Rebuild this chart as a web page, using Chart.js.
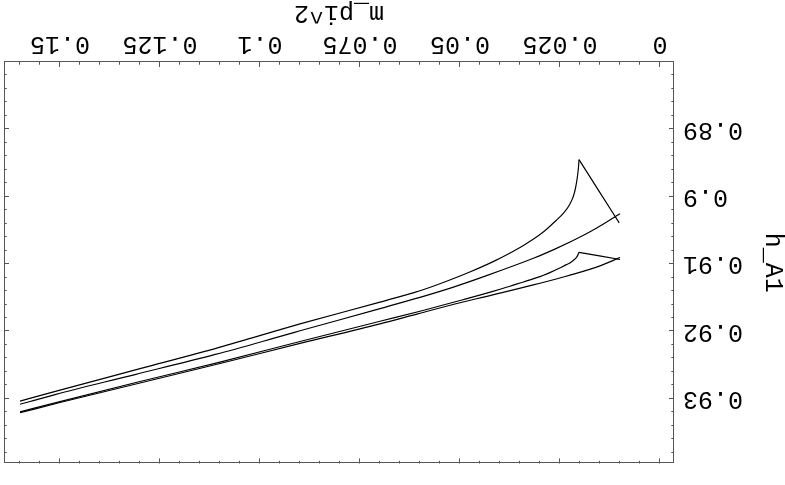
<!DOCTYPE html>
<html>
<head>
<meta charset="utf-8">
<script src="https://cdn.jsdelivr.net/npm/chart.js@4/dist/chart.umd.min.js"></script>
<style>
  html, body { margin: 0; padding: 0; background: #fff; overflow: hidden; }
  #wrap { width: 785px; height: 485px; }
  /* the whole figure is shown turned half a revolution */
  #plot { display: block; transform: rotate(180deg); }
</style>
</head>
<body>
<div id="wrap"><canvas id="plot" width="785" height="485"></canvas></div>
<script>
// Axis ticks and labels
const xTicks = [0, 0.025, 0.05, 0.075, 0.1, 0.125, 0.15];
const xTickLabels = ['0', '0.025', '0.05', '0.075', '0.1', '0.125', '0.15'];
const yTicks = [0.89, 0.9, 0.91, 0.92, 0.93];
const yTickLabels = ['0.89', '0.9', '0.91', '0.92', '0.93'];

// Curve 1 (upper cusp): short branch up to the cusp, then the long branch
const m1a = [0.0102, 0.01525, 0.02025];
const h1a = [0.90388, 0.89917, 0.89449];
const m1b = [0.02025, 0.0204, 0.02068, 0.02108, 0.02168, 0.02263, 0.02413, 0.02625, 0.02918, 0.0325, 0.035, 0.04, 0.045, 0.05, 0.06, 0.07, 0.09, 0.11, 0.13, 0.15, 0.16];
const h1b = [0.89449, 0.89570, 0.89714, 0.89859, 0.89997, 0.90120, 0.90243, 0.90367, 0.90523, 0.90662, 0.90754, 0.90913, 0.91052, 0.91177, 0.91396, 0.91564, 0.91888, 0.92233, 0.92552, 0.92870, 0.93033];

// Curve 2
const m2 = [0.01, 0.01583, 0.0225, 0.03, 0.04, 0.05, 0.06, 0.07, 0.09, 0.11, 0.13, 0.15, 0.16];
const h2 = [0.90251, 0.90464, 0.90671, 0.90874, 0.91099, 0.91309, 0.91493, 0.91661, 0.91990, 0.92323, 0.92620, 0.92917, 0.93081];

// Curve 3 (lower cusp): short branch up to the cusp, then the long branch
const m3a = [0.01, 0.02025];
const h3a = [0.90932, 0.90826];
const m3b = [0.02025, 0.02075, 0.022, 0.02375, 0.02625, 0.03, 0.035, 0.04, 0.05, 0.06, 0.07, 0.09, 0.11, 0.13, 0.15, 0.16];
const h3b = [0.90826, 0.90888, 0.90961, 0.91019, 0.91091, 0.91186, 0.91280, 0.91374, 0.91541, 0.91700, 0.91849, 0.92149, 0.92454, 0.92743, 0.93041, 0.93193];

// Curve 4
const m4 = [0.01, 0.015, 0.0225, 0.03, 0.04, 0.05, 0.06, 0.07, 0.09, 0.11, 0.13, 0.15, 0.16];
const h4 = [0.90903, 0.91026, 0.91164, 0.91284, 0.91432, 0.91574, 0.91729, 0.91888, 0.92178, 0.92475, 0.92765, 0.93055, 0.93207];

const branches = [[m1a, h1a], [m1b, h1b], [m2, h2], [m3a, h3a], [m3b, h3b], [m4, h4]];

const LABEL_FONT = { family: "'Liberation Mono', 'Courier New', monospace", size: 25, lineHeight: 1 };
const FRAME_COLOR = '#555';

// Closed frame with inward major and minor ticks on all four sides
const frameTicks = {
  id: 'frameTicks',
  afterDraw(chart) {
    const { ctx, chartArea: a, scales: { x, y } } = chart;
    ctx.save();
    ctx.strokeStyle = FRAME_COLOR;
    ctx.lineWidth = 1;
    ctx.strokeRect(Math.round(a.left) + 0.5, Math.round(a.top) + 0.5,
                   Math.round(a.right - a.left) - 1, Math.round(a.bottom - a.top) - 1);
    ctx.beginPath();
    const MAJ = 5, MIN = 2.7;
    // x: minor step 0.005, major every 0.025
    for (let i = 0; i <= 32; i++) {
      const v = i * 0.005;
      const px = Math.round(x.getPixelForValue(v)) + 0.5;
      if (px < a.left || px > a.right) continue;
      const len = (i % 5 === 0) ? MAJ : MIN;
      ctx.moveTo(px, a.bottom); ctx.lineTo(px, a.bottom - len);
      ctx.moveTo(px, a.top); ctx.lineTo(px, a.top + len);
    }
    // y: minor step 0.002, major every 0.01
    for (let i = 441; i <= 469; i++) {
      const v = i * 0.002;
      const py = Math.round(y.getPixelForValue(v)) + 0.5;
      if (py <= a.top + 1 || py >= a.bottom - 1) continue;
      const len = (i % 5 === 0) ? MAJ : MIN;
      ctx.moveTo(a.left, py); ctx.lineTo(a.left + len, py);
      ctx.moveTo(a.right, py); ctx.lineTo(a.right - len, py);
    }
    ctx.stroke();
    ctx.restore();
  }
};

new Chart(document.getElementById('plot'), {
  type: 'scatter',
  data: {
    datasets: branches.map(([mx, hy], k) => ({
      label: 'branch ' + (k + 1),
      data: mx.map((v, i) => ({ x: v, y: hy[i] })),
      showLine: true,
      borderColor: '#000',
      borderWidth: 1.2,
      pointRadius: 0,
      cubicInterpolationMode: 'monotone',
      fill: false
    }))
  },
  options: {
    responsive: false,
    animation: false,
    events: [],
    layout: { padding: { left: 0, right: 4, top: 12, bottom: 0 } },
    plugins: { legend: { display: false }, tooltip: { enabled: false } },
    scales: {
      x: {
        type: 'linear',
        min: -0.0035,
        max: 0.164,
        afterBuildTicks: s => { s.ticks = xTicks.map(v => ({ value: v })); },
        afterFit: s => { s.height = 62; },
        grid: { display: false, drawTicks: false, tickLength: 0 },
        border: { display: false },
        ticks: {
          autoSkip: false, maxRotation: 0, minRotation: 0, padding: 6,
          color: '#000', font: LABEL_FONT,
          callback: (v, i) => xTickLabels[i]
        },
        title: { display: true, text: 'm_pi^2', color: '#000', font: LABEL_FONT, padding: 0 }
      },
      y: {
        type: 'linear',
        min: 0.88,
        max: 0.9396,
        afterBuildTicks: s => { s.ticks = yTicks.map(v => ({ value: v })); },
        afterFit: s => { s.width = 111; },
        grid: { display: false, drawTicks: false, tickLength: 0 },
        border: { display: false },
        ticks: {
          autoSkip: false, padding: 9,
          color: '#000', font: LABEL_FONT,
          callback: (v, i) => yTickLabels[i]
        },
        title: { display: true, text: 'h_A1', color: '#000', font: LABEL_FONT, padding: 0 }
      }
    }
  },
  plugins: [frameTicks]
});
</script>
</body>
</html>
